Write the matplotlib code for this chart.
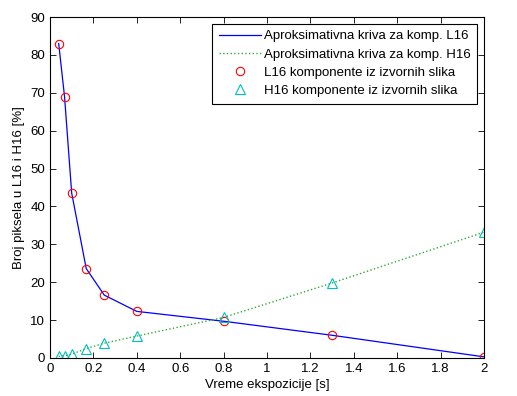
import matplotlib
matplotlib.use("Agg")
import matplotlib.pyplot as plt

t = [0.04, 0.067, 0.1, 0.167, 0.25, 0.4, 0.8, 1.3, 2.0]
l16 = [83.0, 69.0, 43.5, 23.6, 16.6, 12.3, 9.7, 6.0, 0.3]
h16 = [0.4, 0.6, 1.0, 2.5, 3.9, 5.8, 10.7, 19.8, 33.2]

plt.rcParams['font.family'] = ['Liberation Sans', 'DejaVu Sans']
fig = plt.figure(figsize=(5.17, 3.96), dpi=100)
ax = fig.add_axes([50/517, 1-358/396, 434/517, 341/396])

ax.plot(t, l16, '-', color='#0000ff', lw=0.9, label='Aproksimativna kriva za komp. L16')
ax.plot(t, h16, ':', color='#33aa33', lw=1.0, label='Aproksimativna kriva za komp. H16')
ax.plot(t, l16, 'o', mfc='none', mec='#ff0000', ms=6, mew=0.8, ls='none', label='L16 komponente iz izvornih slika')
ax.plot(t, h16, '^', mfc='none', mec='#00bfbf', ms=6.5, mew=0.8, ls='none', label='H16 komponente iz izvornih slika')

ax.set_xlim(0, 2)
ax.set_ylim(0, 90)
ax.set_xticks([0, 0.2, 0.4, 0.6, 0.8, 1, 1.2, 1.4, 1.6, 1.8, 2])
ax.set_xticklabels(['0', '0.2', '0.4', '0.6', '0.8', '1', '1.2', '1.4', '1.6', '1.8', '2'])
ax.set_yticks(range(0, 91, 10))
ax.tick_params(direction='in', top=True, right=True, labelsize=9.5, length=4, width=0.6)
for s in ax.spines.values():
    s.set_linewidth(0.8)
ax.set_xlabel('Vreme ekspozicije [s]', fontsize=9.5, labelpad=3)
ax.set_ylabel('Broj piksela u L16 i H16 [%]', fontsize=9.5, labelpad=4)

leg = ax.legend(loc='upper right', fontsize=9.5, fancybox=False, edgecolor='black',
                framealpha=1, handlelength=3.2, borderpad=0.5, labelspacing=0.45,
                handletextpad=0.25, borderaxespad=0.5)
leg.get_frame().set_linewidth(0.8)

fig.savefig('out.png', dpi=100)
